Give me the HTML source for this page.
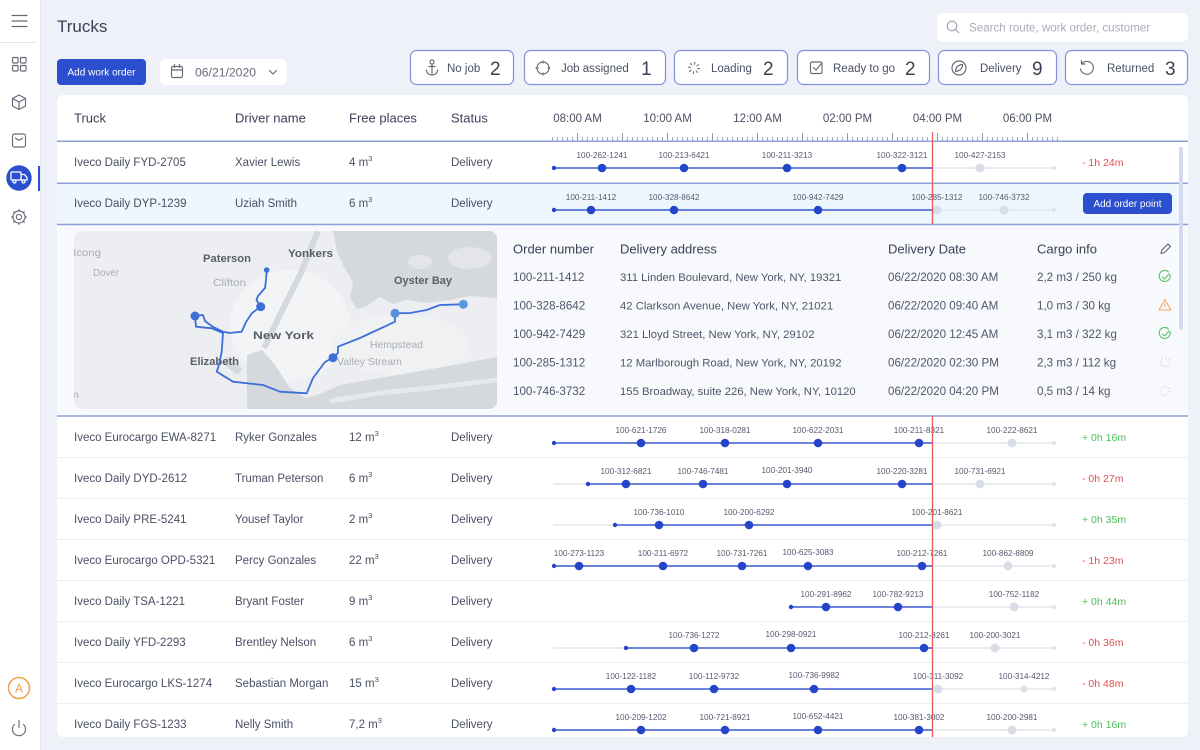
<!DOCTYPE html>
<html><head><meta charset="utf-8">
<style>
html,body{margin:0;padding:0;background:#eef1f8;}
body{width:1200px;height:750px;overflow:hidden;}
svg{display:block;font-family:"Liberation Sans",Arial,sans-serif;}
.tr{stroke:#e3e6ee;stroke-width:1.5;fill:none}
.bl{stroke:#3b5ad0;stroke-width:1.5;fill:none}
.bd{fill:#2445c8}
.gd{fill:#d9dde6}
.ed{fill:#dfe2ea}
.lb{font-size:8.2px;fill:#555a6e;text-anchor:middle}
.rt{font-size:11.5px;fill:#4a4f64}
.hd{font-size:13px;fill:#3b4056}
.hr{font-size:11.5px;fill:#4a4f64;text-anchor:middle}
.dl{font-size:10.5px}
.red{fill:#e0504f}
.grn{fill:#4cbf5a}
.st{font-size:11.5px;fill:#4a4f64}
.num{font-size:19px;fill:#3b4056}
.ot{font-size:11.6px;fill:#50556a}
.oa{font-size:11.3px;fill:#50556a}
.mj{font-size:11px;font-weight:bold;fill:#5a5e66}
.mn{font-size:10.5px;fill:#a9adb3}
.ic{fill:none;stroke:#666a78;stroke-width:1.15;stroke-linecap:round;stroke-linejoin:round}
</style></head><body>
<svg width="1200" height="750" viewBox="0 0 1200 750" xmlns="http://www.w3.org/2000/svg">
<defs>
<clipPath id="mc"><rect x="74" y="231" width="423" height="178" rx="8"/></clipPath>
</defs>

<!-- Sidebar -->
<rect x="0" y="0" width="40" height="750" fill="#fff"/>
<line x1="40.5" y1="0" x2="40.5" y2="750" stroke="#e4e7f0"/>
<line x1="0" y1="42.5" x2="37" y2="42.5" stroke="#e4e7ef"/>
<g class="ic" stroke="#5d6172">
<path d="M12,15.5h15M12,21h15M12,26.5h15"/>
<rect x="12.5" y="57.5" width="5.5" height="5.5" rx="1"/>
<rect x="20.5" y="57.5" width="5.5" height="5.5" rx="1"/>
<rect x="12.5" y="65.5" width="5.5" height="5.5" rx="1"/>
<rect x="20.5" y="65.5" width="5.5" height="5.5" rx="1"/>
<path d="M19,95 l6.5,3.5 v7.5 l-6.5,3.5 l-6.5,-3.5 v-7.5 z M12.5,98.5 l6.5,3.5 l6.5,-3.5 M19,102 v7.5"/>
<rect x="12.5" y="134" width="13" height="13" rx="2"/>
<path d="M15.5,138 q3.5,4 7,0"/>
<circle cx="19" cy="217" r="2.6"/>
<circle cx="19" cy="217" r="6"/>
<path d="M19,209.5v1.5M19,223v1.5M11.5,217h1.5M25,217h1.5M13.7,211.7l1,1M23.3,221.3l1,1M13.7,222.3l1,-1M23.3,212.7l1,-1"/>
<path d="M14.5,724.5 a6.5,6.5 0 1 0 9,0"/>
<path d="M19,720.5v7"/>
</g>
<circle cx="19" cy="178" r="12.7" fill="#2b4fcf"/>
<g stroke="#fff" fill="none" stroke-width="1.3">
<rect x="11" y="172" width="10" height="8" rx="1"/>
<path d="M21,174.5h3.5l2.5,3v2.5h-6"/>
<circle cx="14.5" cy="181.5" r="1.5"/>
<circle cx="23.5" cy="181.5" r="1.5"/>
</g>
<rect x="38" y="166" width="2" height="25" fill="#2b4fcf"/>
<circle cx="19" cy="688" r="10.5" fill="none" stroke="#f0a04b" stroke-width="1.5"/>
<text x="19" y="692.5" font-size="12" fill="#f0a04b" text-anchor="middle">A</text>

<!-- Title / toolbar -->
<text x="57" y="32" font-size="17" fill="#3b4056">Trucks</text>
<rect x="937" y="13" width="251" height="29" rx="6" fill="#fff"/>
<circle cx="952" cy="26" r="4.8" fill="none" stroke="#9a9eab" stroke-width="1.1"/>
<line x1="955.5" y1="29.5" x2="959" y2="33" stroke="#9a9eab" stroke-width="1.1"/>
<text x="969" y="31.5" font-size="11.6" fill="#a8acb8">Search route, work order, customer</text>

<rect x="57" y="59" width="89" height="26" rx="4" fill="#2b4fcf"/>
<text x="101.5" y="75.5" font-size="10.2" fill="#fff" text-anchor="middle" textLength="68" lengthAdjust="spacingAndGlyphs">Add work order</text>
<rect x="160" y="59" width="127" height="26" rx="5" fill="#fff"/>
<g class="ic"><rect x="171.5" y="66.5" width="11" height="11" rx="1.5"/><path d="M171.5,70h11M174.5,64.5v3M179.5,64.5v3"/>
<path d="M269.5,70.5l3.5,3.5l3.5,-3.5"/></g>
<text x="195" y="76.5" font-size="12.2" fill="#666a78">06/21/2020</text>

<!-- Status buttons -->
<g fill="#fff" stroke="#8293d9" stroke-width="1.2">
<rect x="410.5" y="50.5" width="103" height="34" rx="6"/>
<rect x="524.5" y="50.5" width="141" height="34" rx="6"/>
<rect x="674.5" y="50.5" width="113" height="34" rx="6"/>
<rect x="797.5" y="50.5" width="132" height="34" rx="6"/>
<rect x="938.5" y="50.5" width="118" height="34" rx="6"/>
<rect x="1065.5" y="50.5" width="122" height="34" rx="6"/>
</g>
<g class="ic">
<circle cx="432" cy="62" r="2"/><path d="M432,64v11M429,66.5h6M426.5,70 Q427,75 432,75 Q437,75 437.5,70"/>
<circle cx="543" cy="68" r="6"/><path d="M543,61v2M543,73v2M536,68h2M548,68h2"/>
<rect x="810.5" y="62" width="11.5" height="11.5" rx="1.5"/><path d="M813.5,67.5l2.5,2.5l5,-6"/>
<circle cx="959" cy="68" r="7"/><path d="M955.5,71.5 q0,-6 7,-7 q0,6 -7,7z"/>
<path d="M1082,63.5 a6.5,6.5 0 1 1 -1.5,5.5"/><path d="M1081.5,60.5v3.5h3.5"/>
</g>
<circle cx="694" cy="68" r="4.5" fill="none" stroke="#777b88" stroke-width="3" stroke-dasharray="1.1 2.43"/>
<text class="st" x="447" y="72">No job</text>
<text class="num" x="490" y="75">2</text>
<text class="st" x="561" y="72">Job assigned</text>
<text class="num" x="641" y="75">1</text>
<text class="st" x="711" y="72">Loading</text>
<text class="num" x="763" y="75">2</text>
<text class="st" x="833" y="72">Ready to go</text>
<text class="num" x="905" y="75">2</text>
<text class="st" x="980" y="72">Delivery</text>
<text class="num" x="1032" y="75">9</text>
<text class="st" x="1107" y="72">Returned</text>
<text class="num" x="1165" y="75">3</text>

<!-- Card -->
<rect x="57" y="95" width="1131" height="642" rx="6" fill="#fff"/>
<text class="hd" x="74" y="122.5">Truck</text>
<text class="hd" x="235" y="122.5">Driver name</text>
<text class="hd" x="349" y="122.5">Free places</text>
<text class="hd" x="451" y="122.5">Status</text>
<text class="hr" x="577.5" y="122">08:00 AM</text>
<text class="hr" x="667.5" y="122">10:00 AM</text>
<text class="hr" x="757.5" y="122">12:00 AM</text>
<text class="hr" x="847.5" y="122">02:00 PM</text>
<text class="hr" x="937.5" y="122">04:00 PM</text>
<text class="hr" x="1027.5" y="122">06:00 PM</text>
<line x1="552" y1="138.75" x2="1058" y2="138.75" stroke="#a3abc6" stroke-width="3.5" stroke-dasharray="1 4"/>
<line x1="577" y1="136.5" x2="1058" y2="136.5" stroke="#8d95b3" stroke-width="7" stroke-dasharray="1 44"/>

<!-- row 2 highlight & expanded panel -->
<rect x="57" y="183.5" width="1131" height="41" fill="#eef6fe"/>
<rect x="57" y="224.5" width="1131" height="191.5" fill="#f8f9fd"/>

<!-- separators -->
<path d="M57,457.5H1188M57,498.5H1188M57,539.5H1188M57,580.5H1188M57,621.5H1188M57,662.5H1188M57,703.5H1188" stroke="#eceef4" stroke-width="1"/>
<path d="M57,141.25H1188M57,183.25H1188M57,224.5H1188M57,416H1188" stroke="#8f9fd8" stroke-width="1.5"/>

<!-- Row 1 -->
<text class="rt" x="74" y="166">Iveco Daily FYD-2705</text>
<text class="rt" x="235" y="166">Xavier Lewis</text>
<text class="rt" x="349" y="166">4 m<tspan dy="-5" font-size="7.5">3</tspan></text>
<text class="rt" x="451" y="166">Delivery</text>
<text class="dl red" x="1082" y="166">- 1h 24m</text>
<path class="tr" d="M932.5,168H1054"/><path class="bl" d="M554,168H932.5"/>
<circle class="bd" cx="554" cy="168" r="2.2"/>
<circle class="bd" cx="602" cy="168" r="4.3"/><circle class="bd" cx="684" cy="168" r="4.3"/><circle class="bd" cx="787" cy="168" r="4.3"/><circle class="bd" cx="902" cy="168" r="4.3"/>
<circle class="gd" cx="980" cy="168" r="4.5"/><circle class="ed" cx="1054" cy="168" r="2"/>
<text class="lb" x="602" y="158">100-262-1241</text><text class="lb" x="684" y="158">100-213-6421</text><text class="lb" x="787" y="158">100-211-3213</text><text class="lb" x="902" y="158">100-322-3121</text><text class="lb" x="980" y="158">100-427-2153</text>

<!-- Row 2 -->
<text class="rt" x="74" y="207">Iveco Daily DYP-1239</text>
<text class="rt" x="235" y="207">Uziah Smith</text>
<text class="rt" x="349" y="207">6 m<tspan dy="-5" font-size="7.5">3</tspan></text>
<text class="rt" x="451" y="207">Delivery</text>
<path class="tr" d="M932.5,210H1054"/><path class="bl" d="M554,210H932.5"/>
<circle class="bd" cx="554" cy="210" r="2.2"/>
<circle class="bd" cx="591" cy="210" r="4.3"/><circle class="bd" cx="674" cy="210" r="4.3"/><circle class="bd" cx="818" cy="210" r="4.3"/>
<circle class="gd" cx="937" cy="210" r="4.5"/><circle class="gd" cx="1004" cy="210" r="4.5"/><circle class="ed" cx="1054" cy="210" r="2"/>
<text class="lb" x="591" y="200">100-211-1412</text><text class="lb" x="674" y="200">100-328-8642</text><text class="lb" x="818" y="200">100-942-7429</text><text class="lb" x="937" y="200">100-285-1312</text><text class="lb" x="1004" y="200">100-746-3732</text>
<rect x="1083" y="193" width="89" height="21" rx="4" fill="#2b4fcf"/>
<text x="1127.5" y="207" font-size="10" fill="#fff" text-anchor="middle" textLength="68" lengthAdjust="spacingAndGlyphs">Add order point</text>

<!-- Red line -->
<path d="M932.5,132V224M932.5,416V737" stroke="#e35d5d" stroke-width="1.2"/>

<!-- Map -->
<g clip-path="url(#mc)">
<rect x="74" y="231" width="423" height="178" fill="#eceef1"/>
<ellipse cx="290" cy="325" rx="60" ry="55" fill="#f3f4f6"/>
<ellipse cx="400" cy="345" rx="70" ry="30" fill="#f0f1f3"/>
<polygon points="333,231 497,231 497,298 470,296 450,300 427,303 407,300 393,304 380,297 367,306 357,309 350,298 353,282 343,265 337,252" fill="#d5d8dc"/>
<ellipse cx="470" cy="258" rx="22" ry="11" fill="#e3e5e8"/>
<ellipse cx="420" cy="262" rx="12" ry="7" fill="#e3e5e8"/>
<polygon points="247,355 262,350 275,365 290,388 305,398 320,394 340,385 380,378 420,371 460,364 497,357 497,409 247,409" fill="#d5d8dc"/>
<path d="M330,401 L380,393 L430,388 L497,380" stroke="#e6e8eb" stroke-width="5" fill="none"/>
<path d="M318,231 L300,275 L280,315 L264,348" stroke="#d5d8dc" stroke-width="6" fill="none"/>
<path d="M225,360 L240,372" stroke="#d5d8dc" stroke-width="8" fill="none"/>
<text class="mn" x="73" y="256" textLength="28" lengthAdjust="spacingAndGlyphs">tcong</text>
<text class="mn" x="93" y="276" textLength="26" lengthAdjust="spacingAndGlyphs">Dover</text>
<text class="mn" x="213" y="286" textLength="33" lengthAdjust="spacingAndGlyphs">Clifton</text>
<text class="mn" x="370" y="348" textLength="53" lengthAdjust="spacingAndGlyphs">Hempstead</text>
<text class="mn" x="337" y="365" textLength="65" lengthAdjust="spacingAndGlyphs">Valley Stream</text>
<text class="mn" x="73" y="398">n</text>
<text class="mj" x="203" y="262" textLength="48" lengthAdjust="spacingAndGlyphs">Paterson</text>
<text class="mj" x="288" y="257" textLength="45" lengthAdjust="spacingAndGlyphs">Yonkers</text>
<text class="mj" x="394" y="284" textLength="58" lengthAdjust="spacingAndGlyphs">Oyster Bay</text>
<text class="mj" x="253" y="339" font-size="14.5" textLength="61" lengthAdjust="spacingAndGlyphs">New York</text>
<text class="mj" x="190" y="365" textLength="49" lengthAdjust="spacingAndGlyphs">Elizabeth</text>
<g fill="none" stroke="#3d6fd8" stroke-width="1.8" stroke-linejoin="round" stroke-linecap="round">
<path d="M266.7,270 L266,280 L265,288 L258,296 L256.5,300 L260.7,306.7 L252,313 L246,322 L241.7,331.7 L230,333 L223,331.7 L213,327 L205,321 L203,315 L195,315.7"/>
<path d="M195,316 L196,326.7 L211.7,328.3 L223,333 L221.7,351.7 L219,365 L216.7,371.7 L233,381.7 L263,385 L280,391.7 L306.7,393.3 L313,378 L325,362 L333,357.7 L338,353 L338,346.7 L360,338 L395,321.7 L395,313.3 L410,313 L426.7,310 L440,305 L463.3,304.3"/>
</g>
<circle cx="266.7" cy="270" r="2.8" fill="#3d6fd8"/>
<circle cx="260.7" cy="306.7" r="4.5" fill="#3d6fd8"/>
<circle cx="195" cy="316" r="4.5" fill="#3d6fd8"/>
<circle cx="333" cy="357.7" r="4.5" fill="#3d6fd8"/>
<circle cx="395" cy="313.3" r="4.5" fill="#5a8ee0"/>
<circle cx="463.3" cy="304.3" r="4.5" fill="#5b98e2"/>
</g>

<!-- Order table -->
<text class="hd" x="513" y="253.5" fill="#4a4f64">Order number</text>
<text class="hd" x="620" y="253.5">Delivery address</text>
<text class="hd" x="888" y="253.5">Delivery Date</text>
<text class="hd" x="1037" y="253.5">Cargo info</text>
<path class="ic" d="M1161,253.5 l1,-3.5 l6,-6 l2.5,2.5 l-6,6 z"/>

<text class="ot" x="513" y="281">100-211-1412</text>
<text class="oa" x="620" y="281">311 Linden Boulevard, New York, NY, 19321</text>
<text class="ot" x="888" y="281">06/22/2020 08:30 AM</text>
<text class="ot" x="1037" y="281">2,2 m3 / 250 kg</text>

<text class="ot" x="513" y="309.5">100-328-8642</text>
<text class="oa" x="620" y="309.5">42 Clarkson Avenue, New York, NY, 21021</text>
<text class="ot" x="888" y="309.5">06/22/2020 09:40 AM</text>
<text class="ot" x="1037" y="309.5">1,0 m3 / 30 kg</text>

<text class="ot" x="513" y="338">100-942-7429</text>
<text class="oa" x="620" y="338">321 Lloyd Street, New York, NY, 29102</text>
<text class="ot" x="888" y="338">06/22/2020 12:45 AM</text>
<text class="ot" x="1037" y="338">3,1 m3 / 322 kg</text>

<text class="ot" x="513" y="366.5">100-285-1312</text>
<text class="oa" x="620" y="366.5">12 Marlborough Road, New York, NY, 20192</text>
<text class="ot" x="888" y="366.5">06/22/2020 02:30 PM</text>
<text class="ot" x="1037" y="366.5">2,3 m3 / 112 kg</text>

<text class="ot" x="513" y="395">100-746-3732</text>
<text class="oa" x="620" y="395">155 Broadway, suite 226, New York, NY, 10120</text>
<text class="ot" x="888" y="395">06/22/2020 04:20 PM</text>
<text class="ot" x="1037" y="395">0,5 m3 / 14 kg</text>

<g fill="none" stroke="#5cc26b" stroke-width="1.1" stroke-linecap="round" stroke-linejoin="round">
<path d="M1170,274.5 a5.5,5.5 0 1 1 -1.5,-2.5"/><path d="M1162.5,277 l2,2 l4.5,-5"/>
<path d="M1170,331.5 a5.5,5.5 0 1 1 -1.5,-2.5"/><path d="M1162.5,334 l2,2 l4.5,-5"/>
</g>
<g fill="none" stroke="#f0a868" stroke-width="1.1" stroke-linejoin="round" stroke-linecap="round">
<path d="M1165,299.5 l6,10.5 h-12 z"/><path d="M1165,303.5v3"/>
</g>
<circle cx="1165" cy="362.5" r="4.5" fill="none" stroke="#dde0e6" stroke-width="2.5" stroke-dasharray="1.1 2.43"/>
<circle cx="1165" cy="391" r="4.5" fill="none" stroke="#dde0e6" stroke-width="2.5" stroke-dasharray="1.1 2.43"/>
<rect x="1179" y="147" width="4" height="183" rx="2" fill="#d3daee"/>

<!-- Row 3 -->
<text class="rt" x="74" y="441">Iveco Eurocargo EWA-8271</text>
<text class="rt" x="235" y="441">Ryker Gonzales</text>
<text class="rt" x="349" y="441">12 m<tspan dy="-5" font-size="7.5">3</tspan></text>
<text class="rt" x="451" y="441">Delivery</text>
<text class="dl grn" x="1082" y="441">+ 0h 16m</text>
<path class="tr" d="M932.5,443H1054"/><path class="bl" d="M554,443H932.5"/>
<circle class="bd" cx="554" cy="443" r="2.2"/>
<circle class="bd" cx="641" cy="443" r="4.3"/><circle class="bd" cx="725" cy="443" r="4.3"/><circle class="bd" cx="818" cy="443" r="4.3"/><circle class="bd" cx="919" cy="443" r="4.3"/>
<circle class="gd" cx="1012" cy="443" r="4.5"/><circle class="ed" cx="1054" cy="443" r="2"/>
<text class="lb" x="641" y="433">100-621-1726</text><text class="lb" x="725" y="433">100-318-0281</text><text class="lb" x="818" y="433">100-622-2031</text><text class="lb" x="919" y="433">100-211-8321</text><text class="lb" x="1012" y="433">100-222-8621</text>

<!-- Row 4 -->
<text class="rt" x="74" y="482">Iveco Daily DYD-2612</text>
<text class="rt" x="235" y="482">Truman Peterson</text>
<text class="rt" x="349" y="482">6 m<tspan dy="-5" font-size="7.5">3</tspan></text>
<text class="rt" x="451" y="482">Delivery</text>
<text class="dl red" x="1082" y="482">- 0h 27m</text>
<path class="tr" d="M553,484H588M932.5,484H1054"/><path class="bl" d="M588,484H932.5"/>
<circle class="bd" cx="588" cy="484" r="2.2"/>
<circle class="bd" cx="626" cy="484" r="4.3"/><circle class="bd" cx="703" cy="484" r="4.3"/><circle class="bd" cx="787" cy="484" r="4.3"/><circle class="bd" cx="902" cy="484" r="4.3"/>
<circle class="gd" cx="980" cy="484" r="4.5"/><circle class="ed" cx="1054" cy="484" r="2"/>
<text class="lb" x="626" y="474">100-312-6821</text><text class="lb" x="703" y="474">100-746-7481</text><text class="lb" x="787" y="473">100-201-3940</text><text class="lb" x="902" y="474">100-220-3281</text><text class="lb" x="980" y="474">100-731-6921</text>

<!-- Row 5 -->
<text class="rt" x="74" y="523">Iveco Daily PRE-5241</text>
<text class="rt" x="235" y="523">Yousef Taylor</text>
<text class="rt" x="349" y="523">2 m<tspan dy="-5" font-size="7.5">3</tspan></text>
<text class="rt" x="451" y="523">Delivery</text>
<text class="dl grn" x="1082" y="523">+ 0h 35m</text>
<path class="tr" d="M553,525H615M932.5,525H1054"/><path class="bl" d="M615,525H932.5"/>
<circle class="bd" cx="615" cy="525" r="2.2"/>
<circle class="bd" cx="659" cy="525" r="4.3"/><circle class="bd" cx="749" cy="525" r="4.3"/>
<circle class="gd" cx="937" cy="525" r="4.5"/><circle class="ed" cx="1054" cy="525" r="2"/>
<text class="lb" x="659" y="515">100-736-1010</text><text class="lb" x="749" y="515">100-200-6292</text><text class="lb" x="937" y="515">100-201-8621</text>

<!-- Row 6 -->
<text class="rt" x="74" y="564">Iveco Eurocargo OPD-5321</text>
<text class="rt" x="235" y="564">Percy Gonzales</text>
<text class="rt" x="349" y="564">22 m<tspan dy="-5" font-size="7.5">3</tspan></text>
<text class="rt" x="451" y="564">Delivery</text>
<text class="dl red" x="1082" y="564">- 1h 23m</text>
<path class="tr" d="M932.5,566H1054"/><path class="bl" d="M554,566H932.5"/>
<circle class="bd" cx="554" cy="566" r="2.2"/>
<circle class="bd" cx="579" cy="566" r="4.3"/><circle class="bd" cx="663" cy="566" r="4.3"/><circle class="bd" cx="742" cy="566" r="4.3"/><circle class="bd" cx="808" cy="566" r="4.3"/><circle class="bd" cx="922" cy="566" r="4.3"/>
<circle class="gd" cx="1008" cy="566" r="4.5"/><circle class="ed" cx="1054" cy="566" r="2"/>
<text class="lb" x="579" y="556">100-273-1123</text><text class="lb" x="663" y="556">100-211-6972</text><text class="lb" x="742" y="556">100-731-7261</text><text class="lb" x="808" y="555">100-625-3083</text><text class="lb" x="922" y="556">100-212-7261</text><text class="lb" x="1008" y="556">100-862-8809</text>

<!-- Row 7 -->
<text class="rt" x="74" y="605">Iveco Daily TSA-1221</text>
<text class="rt" x="235" y="605">Bryant Foster</text>
<text class="rt" x="349" y="605">9 m<tspan dy="-5" font-size="7.5">3</tspan></text>
<text class="rt" x="451" y="605">Delivery</text>
<text class="dl grn" x="1082" y="605">+ 0h 44m</text>
<path class="tr" d="M932.5,607H1054"/><path class="bl" d="M791,607H932.5"/>
<circle class="bd" cx="791" cy="607" r="2.2"/>
<circle class="bd" cx="826" cy="607" r="4.3"/><circle class="bd" cx="898" cy="607" r="4.3"/>
<circle class="gd" cx="1014" cy="607" r="4.5"/><circle class="ed" cx="1054" cy="607" r="2"/>
<text class="lb" x="826" y="597">100-291-8962</text><text class="lb" x="898" y="597">100-782-9213</text><text class="lb" x="1014" y="597">100-752-1182</text>

<!-- Row 8 -->
<text class="rt" x="74" y="646">Iveco Daily YFD-2293</text>
<text class="rt" x="235" y="646">Brentley Nelson</text>
<text class="rt" x="349" y="646">6 m<tspan dy="-5" font-size="7.5">3</tspan></text>
<text class="rt" x="451" y="646">Delivery</text>
<text class="dl red" x="1082" y="646">- 0h 36m</text>
<path class="tr" d="M553,648H626M932.5,648H1054"/><path class="bl" d="M626,648H932.5"/>
<circle class="bd" cx="626" cy="648" r="2.2"/>
<circle class="bd" cx="694" cy="648" r="4.3"/><circle class="bd" cx="791" cy="648" r="4.3"/><circle class="bd" cx="924" cy="648" r="4.3"/>
<circle class="gd" cx="995" cy="648" r="4.5"/><circle class="ed" cx="1054" cy="648" r="2"/>
<text class="lb" x="694" y="638">100-736-1272</text><text class="lb" x="791" y="637">100-298-0921</text><text class="lb" x="924" y="638">100-212-8261</text><text class="lb" x="995" y="638">100-200-3021</text>

<!-- Row 9 -->
<text class="rt" x="74" y="687">Iveco Eurocargo LKS-1274</text>
<text class="rt" x="235" y="687">Sebastian Morgan</text>
<text class="rt" x="349" y="687">15 m<tspan dy="-5" font-size="7.5">3</tspan></text>
<text class="rt" x="451" y="687">Delivery</text>
<text class="dl red" x="1082" y="687">- 0h 48m</text>
<path class="tr" d="M932.5,689H1054"/><path class="bl" d="M554,689H932.5"/>
<circle class="bd" cx="554" cy="689" r="2.2"/>
<circle class="bd" cx="631" cy="689" r="4.3"/><circle class="bd" cx="714" cy="689" r="4.3"/><circle class="bd" cx="814" cy="689" r="4.3"/>
<circle class="gd" cx="938" cy="689" r="4.5"/><circle class="gd" cx="1024" cy="689" r="3.5"/><circle class="ed" cx="1054" cy="689" r="2"/>
<text class="lb" x="631" y="679">100-122-1182</text><text class="lb" x="714" y="679">100-112-9732</text><text class="lb" x="814" y="678">100-736-9982</text><text class="lb" x="938" y="679">100-311-3092</text><text class="lb" x="1024" y="679">100-314-4212</text>

<!-- Row 10 -->
<text class="rt" x="74" y="728">Iveco Daily FGS-1233</text>
<text class="rt" x="235" y="728">Nelly Smith</text>
<text class="rt" x="349" y="728">7,2 m<tspan dy="-5" font-size="7.5">3</tspan></text>
<text class="rt" x="451" y="728">Delivery</text>
<text class="dl grn" x="1082" y="728">+ 0h 16m</text>
<path class="tr" d="M932.5,730H1054"/><path class="bl" d="M554,730H932.5"/>
<circle class="bd" cx="554" cy="730" r="2.2"/>
<circle class="bd" cx="641" cy="730" r="4.3"/><circle class="bd" cx="725" cy="730" r="4.3"/><circle class="bd" cx="818" cy="730" r="4.3"/><circle class="bd" cx="919" cy="730" r="4.3"/>
<circle class="gd" cx="1012" cy="730" r="4.5"/><circle class="ed" cx="1054" cy="730" r="2"/>
<text class="lb" x="641" y="720">100-209-1202</text><text class="lb" x="725" y="720">100-721-8921</text><text class="lb" x="818" y="719">100-652-4421</text><text class="lb" x="919" y="720">100-381-3002</text><text class="lb" x="1012" y="720">100-200-2981</text>

<!-- red line on top -->
<path d="M932.5,141V224M932.5,416.8V737" stroke="#e35d5d" stroke-width="1.2" opacity="0.9"/>

<!-- cover anything past card bottom -->
<rect x="41" y="737" width="1159" height="13" fill="#eef1f8"/>
</svg>
</body></html>
